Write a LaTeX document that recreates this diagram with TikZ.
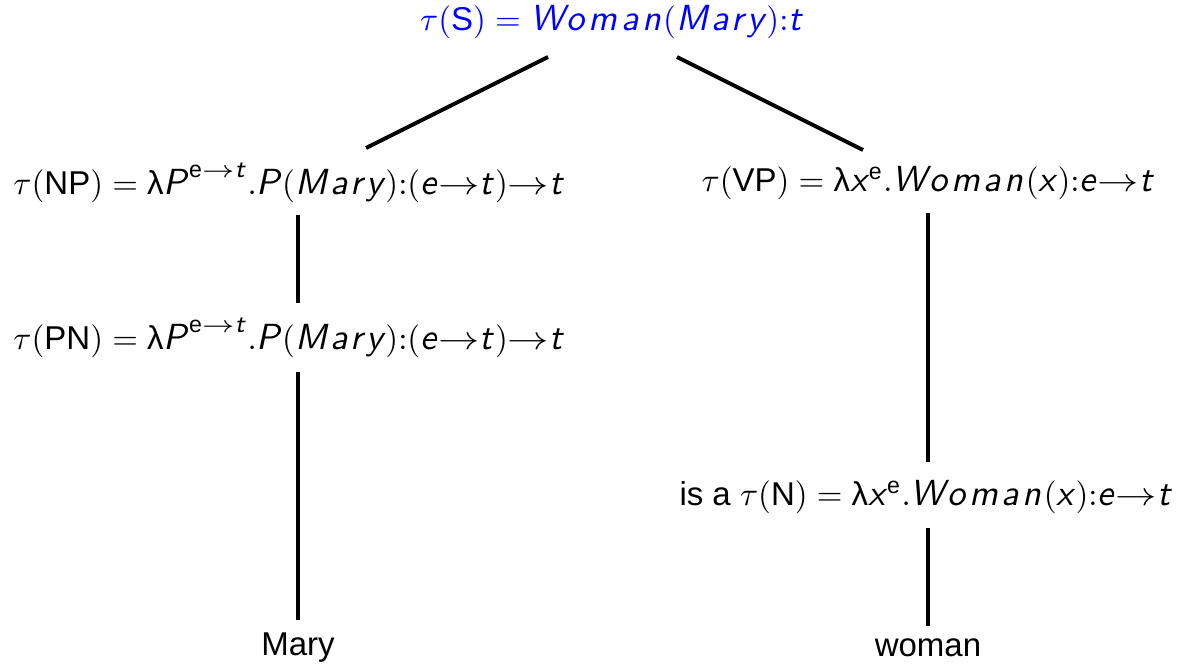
\documentclass[tikz,border=0pt]{standalone}
\usepackage{amsmath}
\usepackage{graphicx}
\usepackage{fontspec}
\setmainfont{Liberation Sans}
\newfontfamily\mvfont{Latin Modern Sans}[LetterSpace=10,Scale=1.1]
\newcommand\mv[1]{\text{\mvfont\itshape #1\kern0.06em}}
\newcommand\up[1]{\text{#1}}
\newcommand\lam{\text{λ}}
\newcommand\ar{\mathrel{\scalebox{1.25}[1]{$\to$}}}
\newcommand\sar{\mathrel{\scalebox{1.25}[1]{$\scriptstyle\to$}}}
\begin{document}
\begin{tikzpicture}[x=1pt,y=-1pt]
\tikzset{lbl/.style={inner sep=0pt,scale=3.3,transform shape},
  edge/.style={line width=4pt}}
\useasboundingbox (0,0) rectangle (1186,667);
\node[lbl,text=blue] (s) at (612,22) {$\tau(\up{S}) = \mv{Woman}(\mv{Mary}){:}\mv{t}$};
\node[lbl] (np) at (289,183) {$\tau(\up{NP}) = \lam\mv{P}^{\up{e}\sar\mv{t}}.\mv{P}(\mv{Mary}){:}(\mv{e}{\ar}\mv{t}){\ar}\mv{t}$};
\node[lbl] (vp) at (928,183) {$\tau(\up{VP}) = \lam\mv{x}^{\up{e}}.\mv{Woman}(\mv{x}){:}\mv{e}{\ar}\mv{t}$};
\node[lbl] (pn) at (289,338) {$\tau(\up{PN}) = \lam\mv{P}^{\up{e}\sar\mv{t}}.\mv{P}(\mv{Mary}){:}(\mv{e}{\ar}\mv{t}){\ar}\mv{t}$};
\node[lbl] (n) at (926,497) {is a $\tau(\up{N}) = \lam\mv{x}^{\up{e}}.\mv{Woman}(\mv{x}){:}\mv{e}{\ar}\mv{t}$};
\node[lbl] (mary) at (298,648) {Mary};
\node[lbl] (woman) at (928,648) {woman};
\coordinate (s1) at (548,57);
\coordinate (s2) at (677,57);
\coordinate (np1) at (366,148);
\coordinate (vp1) at (863,150);
\draw[edge] (s1) -- (np1);
\draw[edge] (s2) -- (vp1);
\coordinate (a1) at (298,215); \coordinate (a2) at (298,303);
\coordinate (b1) at (298,372); \coordinate (b2) at (298,620);
\coordinate (c1) at (928,213); \coordinate (c2) at (928,462);
\coordinate (d1) at (928,528); \coordinate (d2) at (928,626);
\draw[edge] (a1) -- (a2);
\draw[edge] (b1) -- (b2);
\draw[edge] (c1) -- (c2);
\draw[edge] (d1) -- (d2);
\end{tikzpicture}
\end{document}
